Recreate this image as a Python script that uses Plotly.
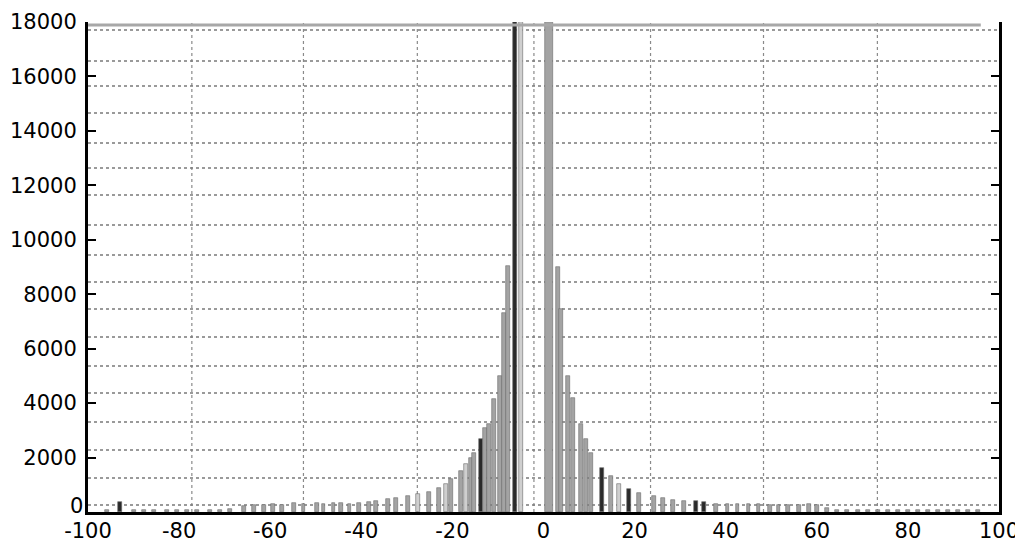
import plotly.graph_objects as go

# ---- data ----
bin_x = [
    -95.8, -93.0, -89.9, -87.7, -85.5, -82.7, -80.5, -78.3, -76.1, -73.3,
    -71.1, -68.9, -65.8, -63.6, -61.4, -59.3, -57.5, -54.7, -52.7, -49.8,
    -48.3, -46.1, -44.4, -42.6, -40.6, -38.4, -36.7, -34.1, -32.3, -29.7,
    -27.5, -25.1, -22.9, -21.4, -20.3, -18.1, -17.0, -15.9, -15.2, -13.7,
    -12.8, -11.9, -10.8, -9.5, -8.7, -7.8, -6.2, -4.9, 1.2, 3.2,
    3.8, 5.4, 6.5, 8.2, 9.3, 10.4, 12.8, 14.8, 16.5, 18.7,
    20.9, 24.2, 26.2, 28.4, 30.8, 33.4, 35.2, 37.8, 40.4, 42.6,
    45.0, 47.2, 49.8, 51.6, 53.6, 56.0, 58.2, 60.1, 62.3, 64.5,
    66.7, 69.0, 71.2, 73.4, 75.6, 77.8, 80.0, 82.2, 84.4, 86.6,
    88.8, 91.0, 93.2, 95.4,
]
counts = [
    60, 370, 60, 70, 60, 80, 70, 60, 80, 70,
    90, 100, 230, 250, 260, 300, 270, 320, 290, 330,
    310, 330, 320, 300, 340, 360, 400, 480, 510, 590,
    660, 720, 870, 1030, 1210, 1500, 1760, 1980, 2160, 2680,
    3080, 3230, 4150, 4990, 7300, 9030, 18000, 18000, 18000, 8990,
    7450, 4990, 4180, 3230, 2680, 2170, 1620, 1320, 1030, 850,
    700, 590, 510, 440, 400, 400, 370, 300, 290, 290,
    280, 280, 270, 270, 270, 270, 280, 260, 130, 70,
    60, 70, 60, 80, 60, 70, 60, 70, 60, 70,
    60, 70, 60, 60,
]
x_ticks = [-100, -80, -60, -40, -20, 0, 20, 40, 60, 80, 100]
x_ticktext = ["-100", "-80", "-60", "-40", "-20", "0", "20", "40", "60", "80", "100"]
y_ticks = [0, 2000, 4000, 6000, 8000, 10000, 12000, 14000, 16000, 18000]
y_ticktext = ["0", "2000", "4000", "6000", "8000", "10000", "12000", "14000", "16000", "18000"]
grid_x = [-77.2, -52.7, -27.7, -2.1, 23.5, 48.3, 73.3]
grid_y = [17708, 16569, 15650, 14658, 13556, 12638, 11646, 10544, 9442,
          8450, 7458, 6429, 5364, 4372, 3306, 2278, 1249, 257]

# ---- styles ----
dark_bins = {-93.0, -13.7, -6.2, 12.8, 18.7, 33.4, 35.2}
light_bins = {-4.9, -17.0, -21.4, -27.5, 16.5}
wide_bins = {1.2}
GRAY, DARK, LIGHT = "#a3a3a3", "#2a2a2a", "#cfcfcf"
colors = [DARK if b in dark_bins else (LIGHT if b in light_bins else GRAY) for b in bin_x]
widths = [1.6 if b in wide_bins else 0.85 for b in bin_x]

fig = go.Figure()
fig.add_trace(go.Bar(
    x=bin_x, y=counts, width=widths,
    marker=dict(color=colors, line=dict(color="#6a6a6a", width=0.6)),
    hoverinfo="x+y",
))

for gx in grid_x:
    fig.add_vline(x=gx, line=dict(color="#8a8a8a", width=1.2, dash="dot"), layer="below")
for gy in grid_y:
    fig.add_hline(y=gy, line=dict(color="#7a7a7a", width=1.4, dash="dot"), layer="below")

# top border (grey in the scan)
fig.add_shape(type="line", xref="paper", yref="paper", x0=0, x1=0.98, y0=0.994, y1=0.994,
              line=dict(color="#a8a8a8", width=3))

font = dict(family="DejaVu Sans", size=21, color="black")

# the "0" label of the y axis sits a little above the axis in the reference
fig.add_annotation(x=0, xref="paper", y=y_ticks[0], yref="y", text=y_ticktext[0],
                   showarrow=False, xanchor="right", yanchor="middle",
                   xshift=-3, yshift=6, font=font)

# the page body has an 8px default margin, so the figure is 8px smaller
fig.update_layout(
    width=1015, height=534,
    margin=dict(l=80, r=24, t=14, b=30),
    paper_bgcolor="white", plot_bgcolor="white",
    showlegend=False, bargap=0,
    font=font,
    xaxis=dict(range=[-100, 100], tickvals=x_ticks, ticktext=x_ticktext,
               showgrid=False, zeroline=False, showline=True, linecolor="black",
               linewidth=3, ticks="", tickfont=font, ticklabelstandoff=-2,
               automargin=False),
    yaxis=dict(range=[0, 18000], tickvals=y_ticks, ticktext=[""] + y_ticktext[1:],
               showgrid=False, zeroline=False, showline=True, linecolor="black",
               linewidth=3, mirror="ticks", ticks="inside", ticklen=8, tickwidth=2,
               tickcolor="black", tickfont=font, ticklabelstandoff=4,
               automargin=False),
)

fig.write_html("out.html")
